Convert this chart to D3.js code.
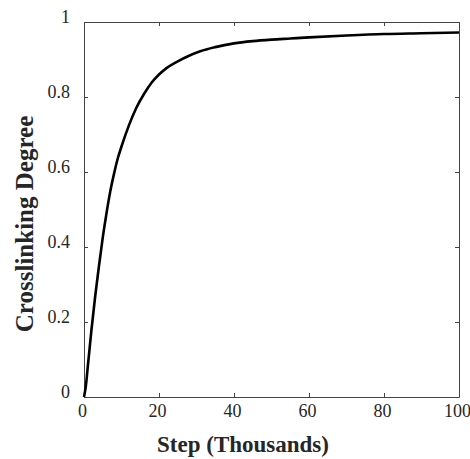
<!DOCTYPE html>
<html>
<head>
<meta charset="utf-8">
<script src="https://cdn.jsdelivr.net/npm/d3@7"></script>
<style>
  body { margin: 0; background: #fff; }
  text { font-family: "Liberation Serif", "Times New Roman", serif; }
</style>
</head>
<body>
<svg id="chart"></svg>
<script>
// crosslinking degree vs step

/*  DATA  */

// steps in thousands
const steps = [0, 0.5, 1, 1.5, 2, 3, 4, 5, 6, 7, 8, 9, 10, 12, 14, 16, 18, 20,
    22, 25, 28, 31, 35, 40, 45, 50, 55, 60, 70, 80, 90, 100];
const degree = [0, 0.03, 0.08, 0.13, 0.18, 0.27, 0.35, 0.425, 0.49, 0.548, 0.595, 0.636, 0.668,
    0.725, 0.772, 0.808, 0.838, 0.86, 0.877, 0.895, 0.91, 0.922, 0.933, 0.943, 0.949,
    0.953, 0.956, 0.959, 0.964, 0.968, 0.97, 0.972];

const xTicks = [0, 20, 40, 60, 80, 100];
const yTicks = [0, 0.2, 0.4, 0.6, 0.8, 1];
const yTickLabels = ['0', '0.2', '0.4', '0.6', '0.8', '1'];

const xTitle = 'Step (Thousands)',
    yTitle = 'Crosslinking Degree';

/*  LAYOUT  */

const width = 470,
    height = 459;

const margin = {top: 22, right: 11, bottom: 62, left: 84};

const svg = d3.select('#chart')
    .attr('width', width)
    .attr('height', height);

const x = d3.scaleLinear()
    .domain([0, 100])
    .range([margin.left, width - margin.right]);

const y = d3.scaleLinear()
    .domain([0, 1])
    .range([height - margin.bottom, margin.top]);

const ink = '#262626';

// axes, ticks pointing inward, mirrored on top and right
const xAxis = d3.axisBottom(x).tickValues(xTicks).tickSizeInner(-4).tickSizeOuter(0)
    .tickFormat(d3.format('d'));
const xAxisTop = d3.axisTop(x).tickValues(xTicks).tickSizeInner(-4).tickSizeOuter(0)
    .tickFormat('');
const yAxis = d3.axisLeft(y).tickValues(yTicks).tickSizeInner(-4).tickSizeOuter(0)
    .tickFormat((d, i) => yTickLabels[i]);
const yAxisRight = d3.axisRight(y).tickValues(yTicks).tickSizeInner(-4).tickSizeOuter(0)
    .tickFormat('');

let gx = svg.append('g')
    .attr('transform', `translate(0,${y(0)})`)
    .call(xAxis);
gx.selectAll('text')
    .attr('y', 7)
    .attr('dx', '-2')
    .attr('dy', '0.71em');

svg.append('g')
    .attr('transform', `translate(0,${y(1)})`)
    .call(xAxisTop);

let gy = svg.append('g')
    .attr('transform', `translate(${x(0)},0)`)
    .call(yAxis);
gy.selectAll('text')
    .attr('x', -14)
    .attr('dy', '0.01em');

svg.append('g')
    .attr('transform', `translate(${x(100)},0)`)
    .call(yAxisRight);

svg.selectAll('.domain')
    .attr('stroke', '#444')
    .attr('stroke-width', 1);
svg.selectAll('.tick line')
    .attr('stroke', '#444');
svg.selectAll('.tick text')
    .style('font-family', '"Liberation Serif", serif')
    .style('font-size', '18px')
    .attr('fill', ink);

// the curve
const line = d3.line()
    .x((d, i) => x(steps[i]))
    .y(d => y(d))
    .curve(d3.curveMonotoneX);

svg.append('path')
    .datum(degree)
    .attr('d', line)
    .attr('fill', 'none')
    .attr('stroke', '#000')
    .attr('stroke-width', 2.6)
    .attr('stroke-linejoin', 'round');

/*  TITLES  */

svg.append('text')
    .attr('x', 243)
    .attr('y', 452)
    .attr('text-anchor', 'middle')
    .style('font-size', '23px')
    .attr('font-weight', 'bold')
    .attr('fill', ink)
    .text(xTitle);

svg.append('text')
    .attr('transform', 'translate(33,224) rotate(-90)')
    .attr('text-anchor', 'middle')
    .style('font-size', '25px')
    .attr('font-weight', 'bold')
    .attr('fill', ink)
    .text(yTitle);
</script>
</body>
</html>
